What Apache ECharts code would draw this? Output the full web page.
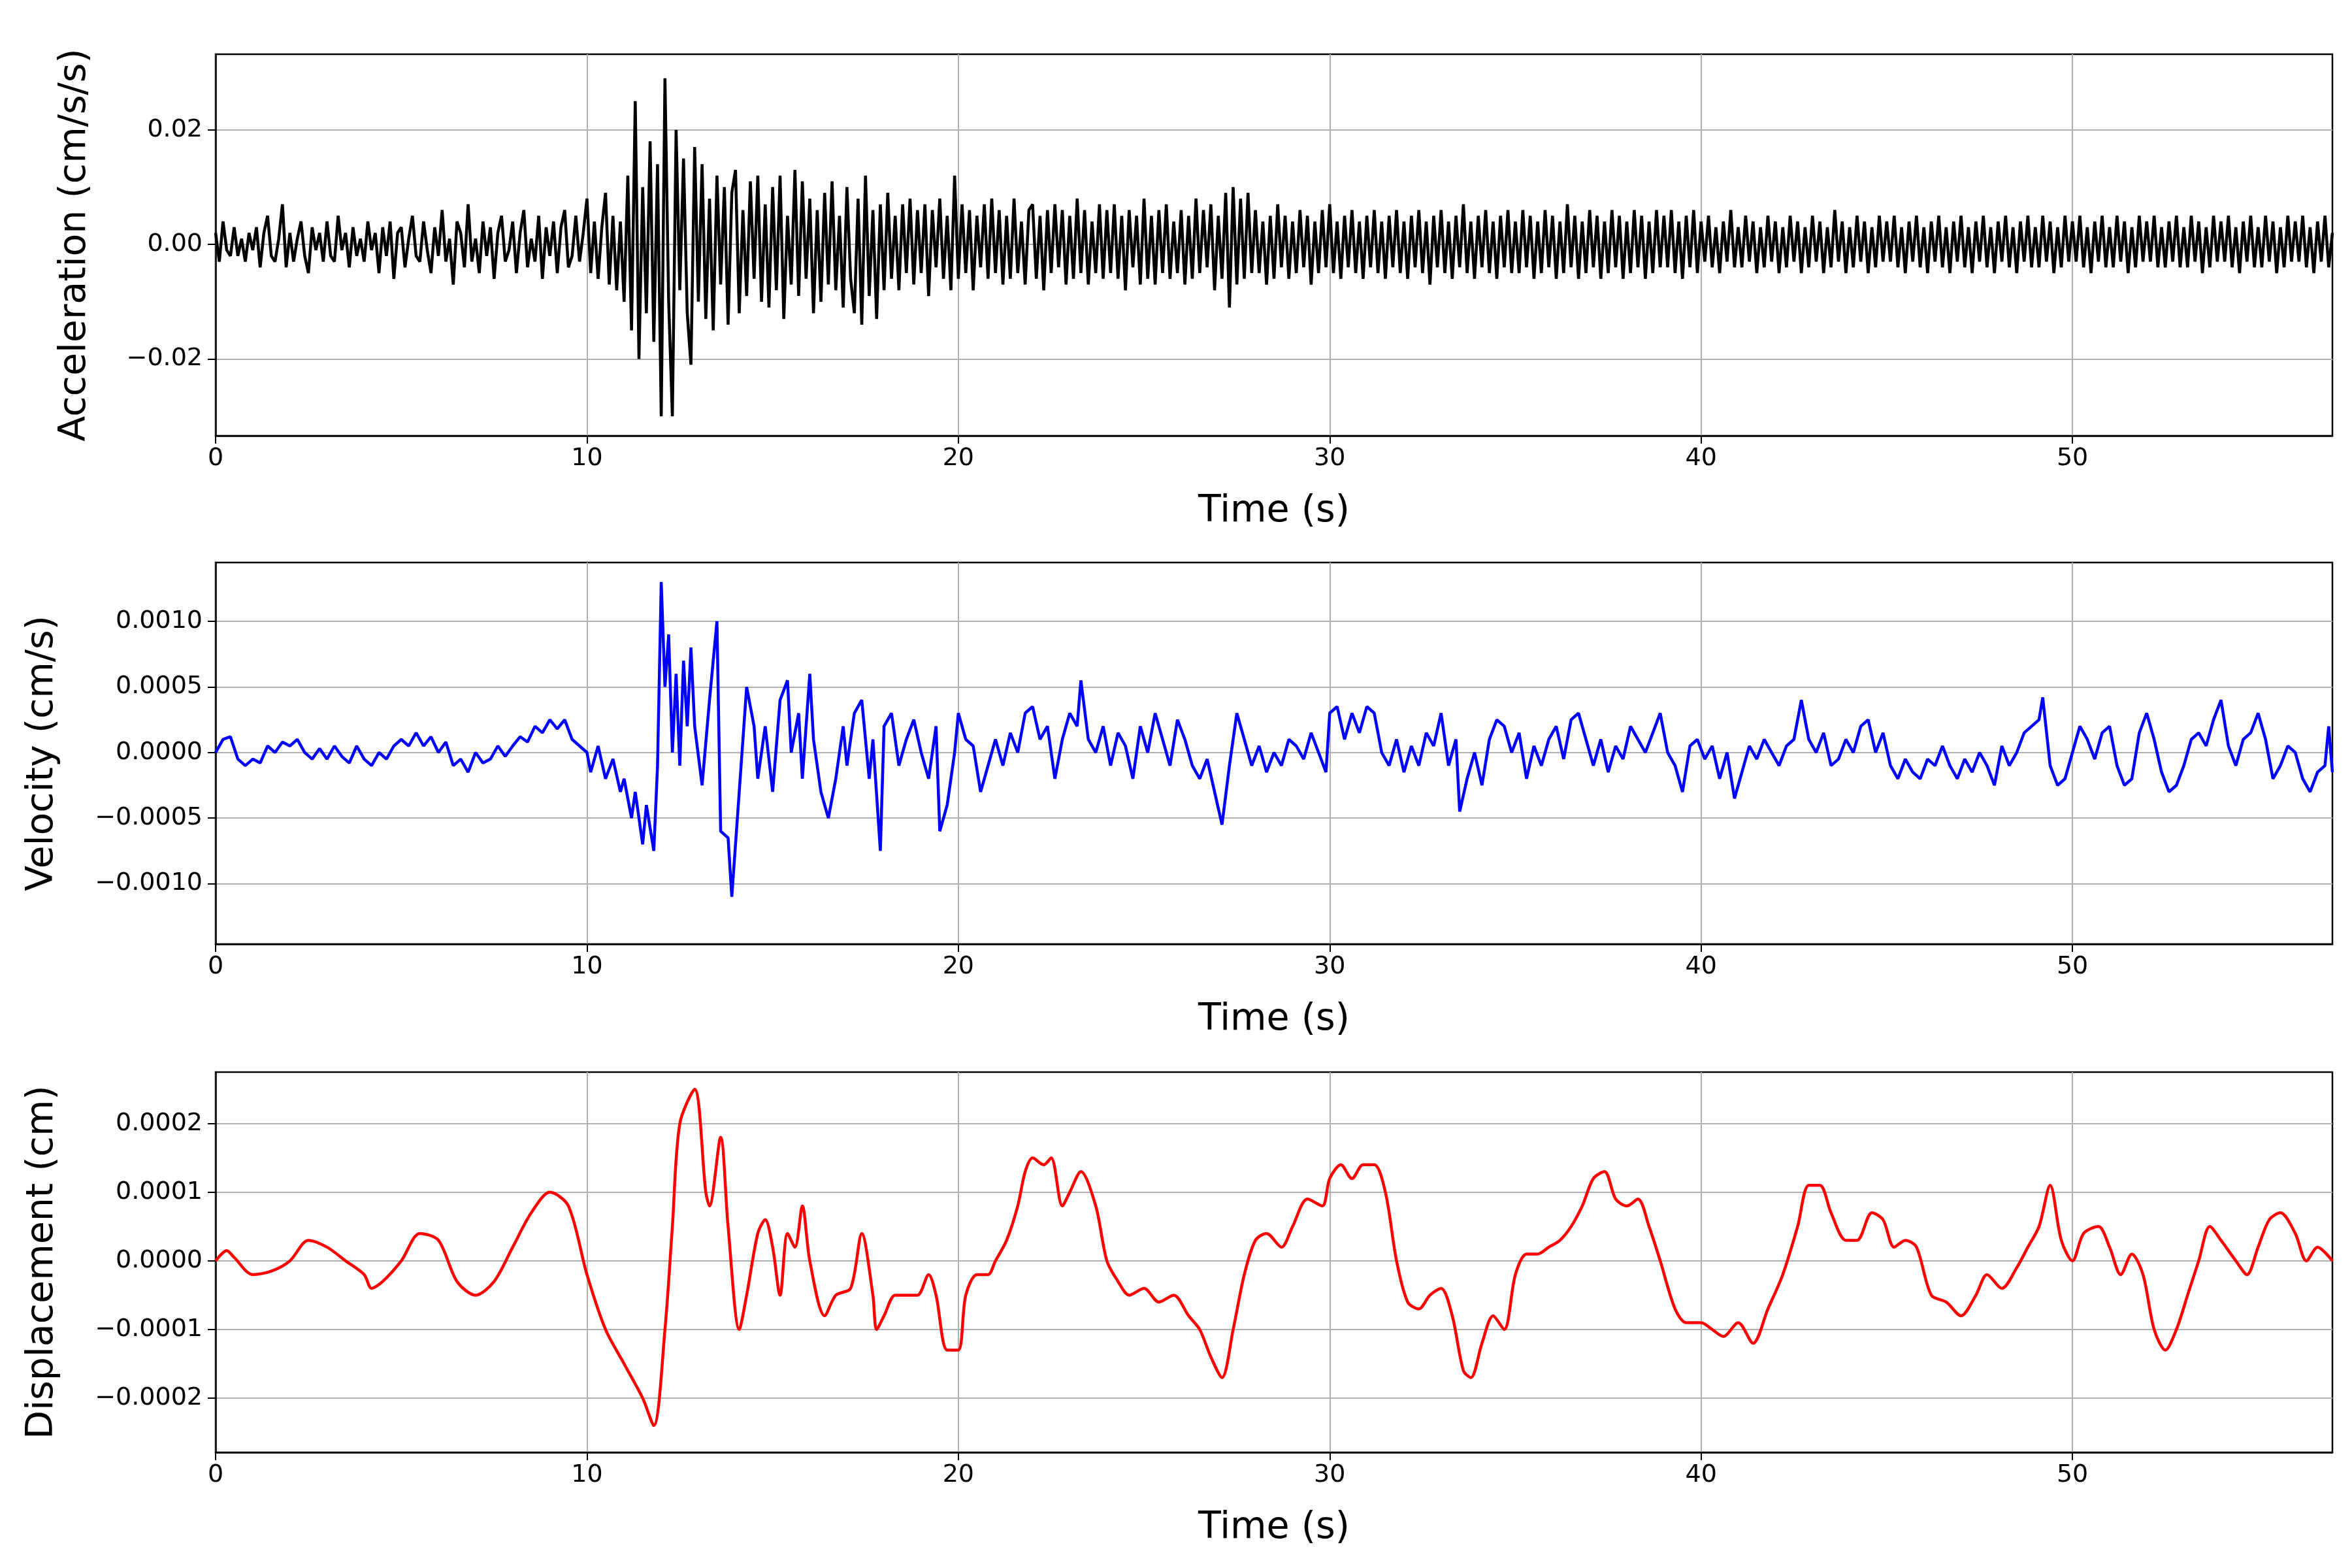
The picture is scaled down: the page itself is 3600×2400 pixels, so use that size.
<!DOCTYPE html>
<html>
<head>
<meta charset="utf-8">
<script src="https://cdn.jsdelivr.net/npm/echarts@6/dist/echarts.min.js"></script>
<style>html,body{margin:0;padding:0;background:#fff}#chart{width:3600px;height:2400px}</style>
</head>
<body>
<div id="chart"></div>
<script>
// acceleration, sampled every 0.1 s, units of 0.001 cm/s/s
var accDt = 0.1;
var accVals = [
2,-3,4,-1,-2,3,-2,1,-3,2, -1,3,-4,2,5,-2,-3,1,7,-4, 2,-3,1,4,-2,-5,3,-1,2,-3, 4,-2,-3,5,-1,2,-4,3,-2,1,
-3,4,-1,2,-5,3,-2,4,-6,2, 3,-4,1,5,-2,-3,4,-1,-5,3, -2,6,-3,1,-7,4,2,-4,7,-3, 1,-5,4,-2,3,-6,2,5,-3,-1,
4,-5,2,6,-4,1,-3,5,-6,3, -2,4,-5,3,6,-4,-2,5,-3,2, 8,-5,4,-6,3,9,-7,5,-8,4, -10,12,-15,25,-20,10,-12,18,-17,14,
-30,29,-10,-30,20,-8,15,-12,-21,17, -10,14,-13,8,-15,12,-7,10,-14,9, 13,-12,6,-9,11,-6,12,-10,7,-11, 10,-8,12,-13,5,-7,13,-9,11,-6,
8,-12,6,-10,9,-7,11,-8,5,-11, 10,-6,-12,8,-14,12,-9,6,-13,7, -8,9,-6,5,-8,7,-5,8,-7,6, -5,7,-9,6,-4,8,-6,5,-8,12,
-6,7,-5,6,-8,5,-4,7,-6,8, -5,6,-7,5,-6,8,-5,4,-7,6, 7,-6,5,-8,6,-5,7,-4,6,-7, 5,-6,8,-5,6,-7,4,-5,7,-6,
6,-5,7,-6,5,-8,6,-4,5,-7, 8,-6,5,-7,6,-5,7,-6,4,-5, 6,-7,5,-6,8,-5,6,-4,7,-8, 5,-6,9,-11,10,-7,8,-6,9,-5,
6,-5,4,-7,5,-6,7,-4,5,-6, 4,-5,6,-4,5,-7,4,-5,6,-4, 7,-5,4,-6,5,-4,6,-5,4,-6, 5,-4,6,-5,4,-6,5,-4,6,-5,
4,-6,5,-4,6,-5,4,-7,5,-4, 6,-5,4,-6,5,-4,7,-5,4,-6, 5,-4,6,-5,4,-6,5,-4,6,-5, 4,-5,6,-4,5,-6,4,-5,6,-4,
5,-6,4,-5,7,-4,5,-6,4,-5, 6,-4,5,-6,4,-5,6,-4,5,-6, 4,-5,6,-4,5,-6,4,-5,6,-4, 5,-4,6,-5,4,-6,5,-4,6,-5,
4,-3,5,-4,3,-5,4,-3,6,-4, 3,-4,5,-3,4,-5,3,-4,5,-3, 4,-5,3,-4,5,-3,4,-5,3,-4, 5,-3,4,-5,3,-4,6,-3,4,-5,
3,-4,5,-3,4,-5,3,-4,5,-3, 4,-3,5,-4,3,-5,4,-3,5,-4, 3,-5,4,-3,5,-4,3,-5,4,-3, 5,-4,3,-5,4,-3,5,-4,3,-5,
4,-3,5,-4,3,-5,4,-3,5,-4, 3,-4,5,-3,4,-5,3,-4,5,-3, 4,-3,5,-4,3,-5,4,-3,5,-4, 3,-4,5,-3,4,-5,3,-4,5,-3,
4,-3,5,-4,3,-4,4,-3,5,-4, 3,-4,5,-3,4,-5,3,-4,5,-3, 4,-3,5,-4,3,-5,4,-3,5,-4, 3,-4,5,-3,4,-5,3,-4,5,-3,
4,-3,5,-4,3,-5,4,-3,5,-4, 2
];
// velocity [time s, value in 1e-5 cm/s]
var velPts = [
[0,0],[0.2,10],[0.4,12],[0.6,-5],[0.8,-10],[1,-5],[1.2,-8],[1.4,5],[1.6,0],[1.8,8],[2,5],[2.2,10],[2.4,0],[2.6,-5],[2.8,3],[3,-5],[3.2,5],[3.4,-3],[3.6,-8],[3.8,5],
[4,-5],[4.2,-10],[4.4,0],[4.6,-5],[4.8,5],[5,10],[5.2,5],[5.4,15],[5.6,5],[5.8,12],[6,0],[6.2,8],[6.4,-10],[6.6,-5],[6.8,-15],[7,0],[7.2,-8],[7.4,-5],[7.6,5],[7.8,-3],
[8,5],[8.2,12],[8.4,8],[8.6,20],[8.8,15],[9,25],[9.2,18],[9.4,25],[9.6,10],[9.8,5],[10,0],[10.1,-15],[10.3,5],[10.5,-20],[10.7,-5],[10.9,-30],[11,-20],[11.2,-50],[11.3,-30],[11.5,-70],
[11.6,-40],[11.8,-75],[11.9,-10],[12,130],[12.1,50],[12.2,90],[12.3,0],[12.4,60],[12.5,-10],[12.6,70],[12.7,20],[12.8,80],[12.9,20],[13.1,-25],[13.3,40],[13.5,100],[13.6,-60],[13.8,-65],[13.9,-110],[14.1,-30],
[14.3,50],[14.5,20],[14.6,-20],[14.8,20],[15,-30],[15.2,40],[15.4,55],[15.5,0],[15.7,30],[15.8,-20],[16,60],[16.1,10],[16.3,-30],[16.5,-50],[16.7,-20],[16.9,20],[17,-10],[17.2,30],[17.4,40],[17.6,-20],
[17.7,10],[17.9,-75],[18,20],[18.2,30],[18.4,-10],[18.6,10],[18.8,25],[19,0],[19.2,-20],[19.4,20],[19.5,-60],[19.7,-40],[19.9,0],[20,30],[20.2,10],[20.4,5],[20.6,-30],[20.8,-10],[21,10],[21.2,-10],
[21.4,15],[21.6,0],[21.8,30],[22,35],[22.2,10],[22.4,20],[22.6,-20],[22.8,10],[23,30],[23.2,20],[23.3,55],[23.5,10],[23.7,0],[23.9,20],[24.1,-10],[24.3,15],[24.5,5],[24.7,-20],[24.9,20],[25.1,0],
[25.3,30],[25.5,10],[25.7,-10],[25.9,25],[26.1,10],[26.3,-10],[26.5,-20],[26.7,-5],[26.9,-30],[27.1,-55],[27.3,-10],[27.5,30],[27.7,10],[27.9,-10],[28.1,5],[28.3,-15],[28.5,0],[28.7,-10],[28.9,10],[29.1,5],
[29.3,-5],[29.5,15],[29.7,0],[29.9,-15],[30,30],[30.2,35],[30.4,10],[30.6,30],[30.8,15],[31,35],[31.2,30],[31.4,0],[31.6,-10],[31.8,10],[32,-15],[32.2,5],[32.4,-10],[32.6,15],[32.8,5],[33,30],
[33.2,-10],[33.4,10],[33.5,-45],[33.7,-20],[33.9,0],[34.1,-25],[34.3,10],[34.5,25],[34.7,20],[34.9,0],[35.1,15],[35.3,-20],[35.5,5],[35.7,-10],[35.9,10],[36.1,20],[36.3,-5],[36.5,25],[36.7,30],[36.9,10],
[37.1,-10],[37.3,10],[37.5,-15],[37.7,5],[37.9,-5],[38.1,20],[38.3,10],[38.5,0],[38.7,15],[38.9,30],[39.1,0],[39.3,-10],[39.5,-30],[39.7,5],[39.9,10],[40.1,-5],[40.3,5],[40.5,-20],[40.7,0],[40.9,-35],
[41.1,-15],[41.3,5],[41.5,-5],[41.7,10],[41.9,0],[42.1,-10],[42.3,5],[42.5,10],[42.7,40],[42.9,10],[43.1,0],[43.3,15],[43.5,-10],[43.7,-5],[43.9,10],[44.1,0],[44.3,20],[44.5,25],[44.7,0],[44.9,15],
[45.1,-10],[45.3,-20],[45.5,-5],[45.7,-15],[45.9,-20],[46.1,-5],[46.3,-10],[46.5,5],[46.7,-10],[46.9,-20],[47.1,-5],[47.3,-15],[47.5,0],[47.7,-10],[47.9,-25],[48.1,5],[48.3,-10],[48.5,0],[48.7,15],[48.9,20],
[49.1,25],[49.2,42],[49.4,-10],[49.6,-25],[49.8,-20],[50,0],[50.2,20],[50.4,10],[50.6,-5],[50.8,15],[51,20],[51.2,-10],[51.4,-25],[51.6,-20],[51.8,15],[52,30],[52.2,10],[52.4,-15],[52.6,-30],[52.8,-25],
[53,-10],[53.2,10],[53.4,15],[53.6,5],[53.8,25],[54,40],[54.2,5],[54.4,-10],[54.6,10],[54.8,15],[55,30],[55.2,10],[55.4,-20],[55.6,-10],[55.8,5],[56,0],[56.2,-20],[56.4,-30],[56.6,-15],[56.8,-10],[56.9,20],[57,-15]
];
// displacement [time s, value in 1e-5 cm]
var dispPts = [
[0,0],[0.3,1.5],[0.5,0.5],[1,-2],[1.5,-1.5],[2,0],[2.5,3],[3,2],[3.5,0],[4,-2],[4.2,-4],[4.5,-3],[5,0],[5.5,4],[6,3],[6.5,-3],[7,-5],[7.5,-3],[8,2],[8.5,7],
[9,10],[9.5,8],[10,-2],[10.5,-10],[11,-15],[11.5,-20],[11.8,-24],[12.1,-10],[12.3,5],[12.5,20],[12.9,25],[13.2,10],[13.3,8],[13.6,18],[13.8,5],[14.1,-10],[14.3,-5],[14.6,4],[14.8,6],[15,2],
[15.2,-5],[15.4,4],[15.6,2],[15.8,8],[16,0],[16.4,-8],[16.7,-5],[17.1,-4],[17.4,4],[17.7,-5],[17.8,-10],[18,-8],[18.3,-5],[18.6,-5],[18.9,-5],[19.2,-2],[19.4,-5],[19.7,-13],[20,-13],[20.2,-5],
[20.5,-2],[20.8,-2],[21,0],[21.3,3],[21.6,8],[21.8,13],[22,15],[22.3,14],[22.5,15],[22.8,8],[23,10],[23.3,13],[23.7,8],[24,0],[24.3,-3],[24.6,-5],[25,-4],[25.4,-6],[25.8,-5],[26.2,-8],
[26.5,-10],[26.8,-14],[27.1,-17],[27.4,-10],[27.7,-2],[28,3],[28.3,4],[28.7,2],[29,5],[29.4,9],[29.8,8],[30,12],[30.3,14],[30.6,12],[30.9,14],[31.2,14],[31.5,10],[31.8,0],[32.1,-6],[32.4,-7],
[32.7,-5],[33,-4],[33.3,-8],[33.6,-16],[33.8,-17],[34.1,-12],[34.4,-8],[34.7,-10],[35,-2],[35.3,1],[35.6,1],[35.9,2],[36.2,3],[36.5,5],[36.8,8],[37.1,12],[37.4,13],[37.7,9],[38,8],[38.3,9],
[38.6,5],[38.9,0],[39.3,-7],[39.6,-9],[40,-9],[40.3,-10],[40.6,-11],[41,-9],[41.4,-12],[41.8,-7],[42.2,-2],[42.6,5],[42.9,11],[43.2,11],[43.5,7],[43.9,3],[44.2,3],[44.6,7],[44.9,6],[45.2,2],
[45.5,3],[45.8,2],[46.2,-5],[46.6,-6],[47,-8],[47.4,-5],[47.7,-2],[48.1,-4],[48.5,-1],[48.8,2],[49.1,5],[49.4,11],[49.7,3],[50,0],[50.3,4],[50.7,5],[51,2],[51.3,-2],[51.6,1],[51.9,-2],
[52.2,-10],[52.5,-13],[52.8,-10],[53.1,-5],[53.4,0],[53.7,5],[54,3],[54.4,0],[54.7,-2],[55,2],[55.3,6],[55.6,7],[56,4],[56.3,0],[56.6,2],[57,0]
];
var xTicks = [0, 10, 20, 30, 40, 50];
var accTicks = [-0.02, 0, 0.02];
var velTicks = [-0.001, -0.0005, 0, 0.0005, 0.001];
var dispTicks = [-0.0002, -0.0001, 0, 0.0001, 0.0002];

var accData = accVals.map(function(v, i) { return [+(i * accDt).toFixed(2), v * 1e-3]; });
var velData = velPts.map(function(p) { return [p[0], p[1] * 1e-5]; });
var dispData = dispPts.map(function(p) { return [p[0], p[1] * 1e-5]; });

var FONT = 'DejaVu Sans';
function fmt(d) {
    return function(v) { var s = Math.abs(v).toFixed(d); return (v < -1e-12 ? '\u2212' : '') + s; };
}
var grids = [
    {left: 330, right: 30, top: 83, height: 584},
    {left: 330, right: 30, top: 861, height: 584},
    {left: 330, right: 30, top: 1641, height: 582}
];
grids.forEach(function(g) { g.show = true; g.borderColor = '#000'; g.borderWidth = 2.5; g.backgroundColor = 'transparent'; });

function xAxis(i) {
    return {
        type: 'value', gridIndex: i, min: 0, max: 57,
        name: 'Time (s)', nameLocation: 'middle', nameGap: 88,
        nameTextStyle: {fontFamily: FONT, fontSize: 57, color: '#000'},
        axisLine: {show: true, onZero: false, lineStyle: {color: '#000', width: 2.5}},
        axisTick: {show: true, length: 12, customValues: xTicks, lineStyle: {color: '#000', width: 2}},
        axisLabel: {customValues: xTicks, fontFamily: FONT, fontSize: 38, color: '#000', margin: 16},
        splitLine: {show: true, lineStyle: {color: '#b0b0b0', width: 2}}
    };
}
function yAxis(i, name, min, max, ticks, dec, gap) {
    return {
        type: 'value', gridIndex: i, min: min, max: max,
        name: name, nameLocation: 'middle', nameGap: gap,
        nameTextStyle: {fontFamily: FONT, fontSize: 57, color: '#000'},
        axisLine: {show: true, onZero: false, lineStyle: {color: '#000', width: 2.5}},
        axisTick: {show: true, length: 12, customValues: ticks, lineStyle: {color: '#000', width: 2}},
        axisLabel: {customValues: ticks, formatter: fmt(dec), fontFamily: FONT, fontSize: 38, color: '#000', margin: 20},
        splitLine: {show: true, lineStyle: {color: '#b0b0b0', width: 2}}
    };
}
var option = {
    backgroundColor: '#fff',
    animation: false,
    grid: grids,
    xAxis: [xAxis(0), xAxis(1), xAxis(2)],
    yAxis: [
        yAxis(0, 'Acceleration (cm/s/s)', -0.0334, 0.0332, accTicks, 2, 186),
        yAxis(1, 'Velocity (cm/s)', -0.00146, 0.001448, velTicks, 4, 236),
        yAxis(2, 'Displacement (cm)', -0.000279, 0.000275, dispTicks, 4, 236)
    ],
    series: [
        {type: 'line', xAxisIndex: 0, yAxisIndex: 0, data: accData, showSymbol: false, lineStyle: {color: '#000', width: 4.5}},
        {type: 'line', xAxisIndex: 1, yAxisIndex: 1, data: velData, showSymbol: false, lineStyle: {color: '#0000ff', width: 4.5}},
        {type: 'line', xAxisIndex: 2, yAxisIndex: 2, data: dispData, showSymbol: false, smooth: 0.3, lineStyle: {color: '#ff0000', width: 4.5}}
    ]
};
var myChart = echarts.init(document.getElementById('chart'));
myChart.setOption(option);
</script>
</body>
</html>
